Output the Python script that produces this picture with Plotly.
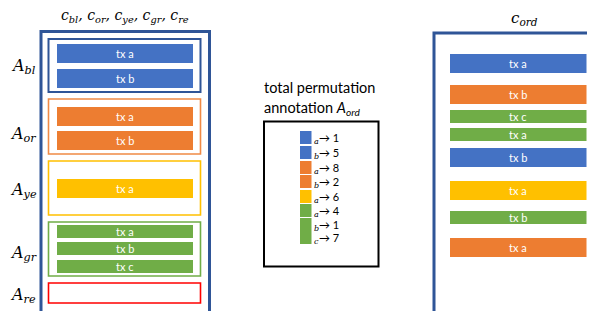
import plotly.graph_objects as go

# ---------------- data ----------------
group_keys = ["bl", "or", "ye", "gr", "re"]
group_tx = [["a", "b"], ["a", "b"], ["a"], ["a", "b", "c"], []]

perm_groups = ["bl", "bl", "or", "or", "ye", "gr", "gr", "gr"]
perm_tx = ["a", "b", "a", "b", "a", "a", "b", "c"]
perm_target = [1, 5, 8, 2, 6, 4, 1, 7]

ord_groups = ["bl", "or", "gr", "gr", "bl", "ye", "gr", "or"]
ord_tx = ["a", "b", "c", "a", "b", "a", "b", "a"]

# ---------------- styles / layout ----------------
fill = {"bl": "#4472C4", "or": "#ED7D31", "ye": "#FFC000", "gr": "#70AD47", "re": "#FF0000"}
edge = {"bl": "#2F5597", "or": "#F08A45", "ye": "#FFC000", "gr": "#70AD47", "re": "#FF0000"}
frame_col = "#2F5597"

W, H = 595, 311
OFF = 8  # page body margin compensation
group_box_y = [(39, 92), (99, 154), (161, 215), (222, 276), (283, 303)]
group_bar_y = [[44, 69], [107, 131], [179], [225, 242, 260], []]
group_label_y = [66, 134, 190, 253, 295]
ord_bar_y = [54, 85, 110, 128, 148, 181, 211, 238]
perm_row_y = [131, 146, 161, 175, 190, 204, 218, 231]

def bar_h(g):
    return 13 if g == "gr" else 19

serif = "DejaVu Serif"
sans = "Lato"

shapes = []
ann = []

def rect(x0, y0, x1, y1, line=None, lw=0, fc=None):
    shapes.append(dict(type="rect", xref="x", yref="y", x0=x0, y0=y0, x1=x1, y1=y1,
                       line=dict(color=line or "rgba(0,0,0,0)", width=lw),
                       fillcolor=fc or "rgba(0,0,0,0)", layer="above"))

def text(x, y, s, size, color="black", family=sans, xanchor="center", yanchor="middle"):
    ann.append(dict(x=x, y=y, xref="x", yref="y", text=s, showarrow=False,
                    font=dict(size=size, color=color, family=family),
                    xanchor=xanchor, yanchor=yanchor))

# left outer frame
rect(41, 31.5, 209.5, 330, line=frame_col, lw=3)
text(125, 16, "<i>c<sub>bl</sub>, c<sub>or</sub>, c<sub>ye</sub>, c<sub>gr</sub>, c<sub>re</sub></i>", 14, family=serif)

for gi, g in enumerate(group_keys):
    y0, y1 = group_box_y[gi]
    rect(48.5, y0, 200.5, y1, line=edge[g], lw=1.6 if g != "bl" else 2)
    text(23, group_label_y[gi], "<i>A<sub>%s</sub></i>" % g, 16, family=serif)
    for bi, t in enumerate(group_tx[gi]):
        yt = group_bar_y[gi][bi]
        h = bar_h(g)
        rect(57, yt, 193, yt + h, fc=fill[g])
        text(125, yt + h / 2, "tx " + t, 11, color="white")

# middle: permutation annotation
text(262, 87, "total permutation", 14.5, xanchor="left")
text(262, 108, "annotation <i>A<sub>ord</sub></i>", 14.5, xanchor="left")
rect(264, 121.5, 378.5, 266.5, line="black", lw=2)
for i, g in enumerate(perm_groups):
    yt = perm_row_y[i]
    rect(300, yt, 311.5, yt + 13, fc=fill[g])
    text(312, yt + 10, "<i>%s</i>" % perm_tx[i], 8, family=serif, xanchor="left")
    text(317, yt + 6.5, "\u2192 %d" % perm_target[i], 11, xanchor="left")

# right: ordered
rect(434, 33, 620, 330, line=frame_col, lw=3)
text(524, 18, "<i>c<sub>ord</sub></i>", 15, family=serif)
for i, g in enumerate(ord_groups):
    yt = ord_bar_y[i]
    h = bar_h(g)
    rect(450, yt, 586.5, yt + h, fc=fill[g])
    text(518, yt + h / 2, "tx " + ord_tx[i], 11, color="white")

fig = go.Figure()
fig.update_layout(
    width=W, height=H, margin=dict(l=0, r=0, t=0, b=0),
    paper_bgcolor="white", plot_bgcolor="white",
    xaxis=dict(range=[OFF, W + OFF], visible=False, fixedrange=True),
    yaxis=dict(range=[H + OFF, OFF], visible=False, fixedrange=True),
    shapes=shapes, annotations=ann, showlegend=False,
)
fig.write_html("out.html")
